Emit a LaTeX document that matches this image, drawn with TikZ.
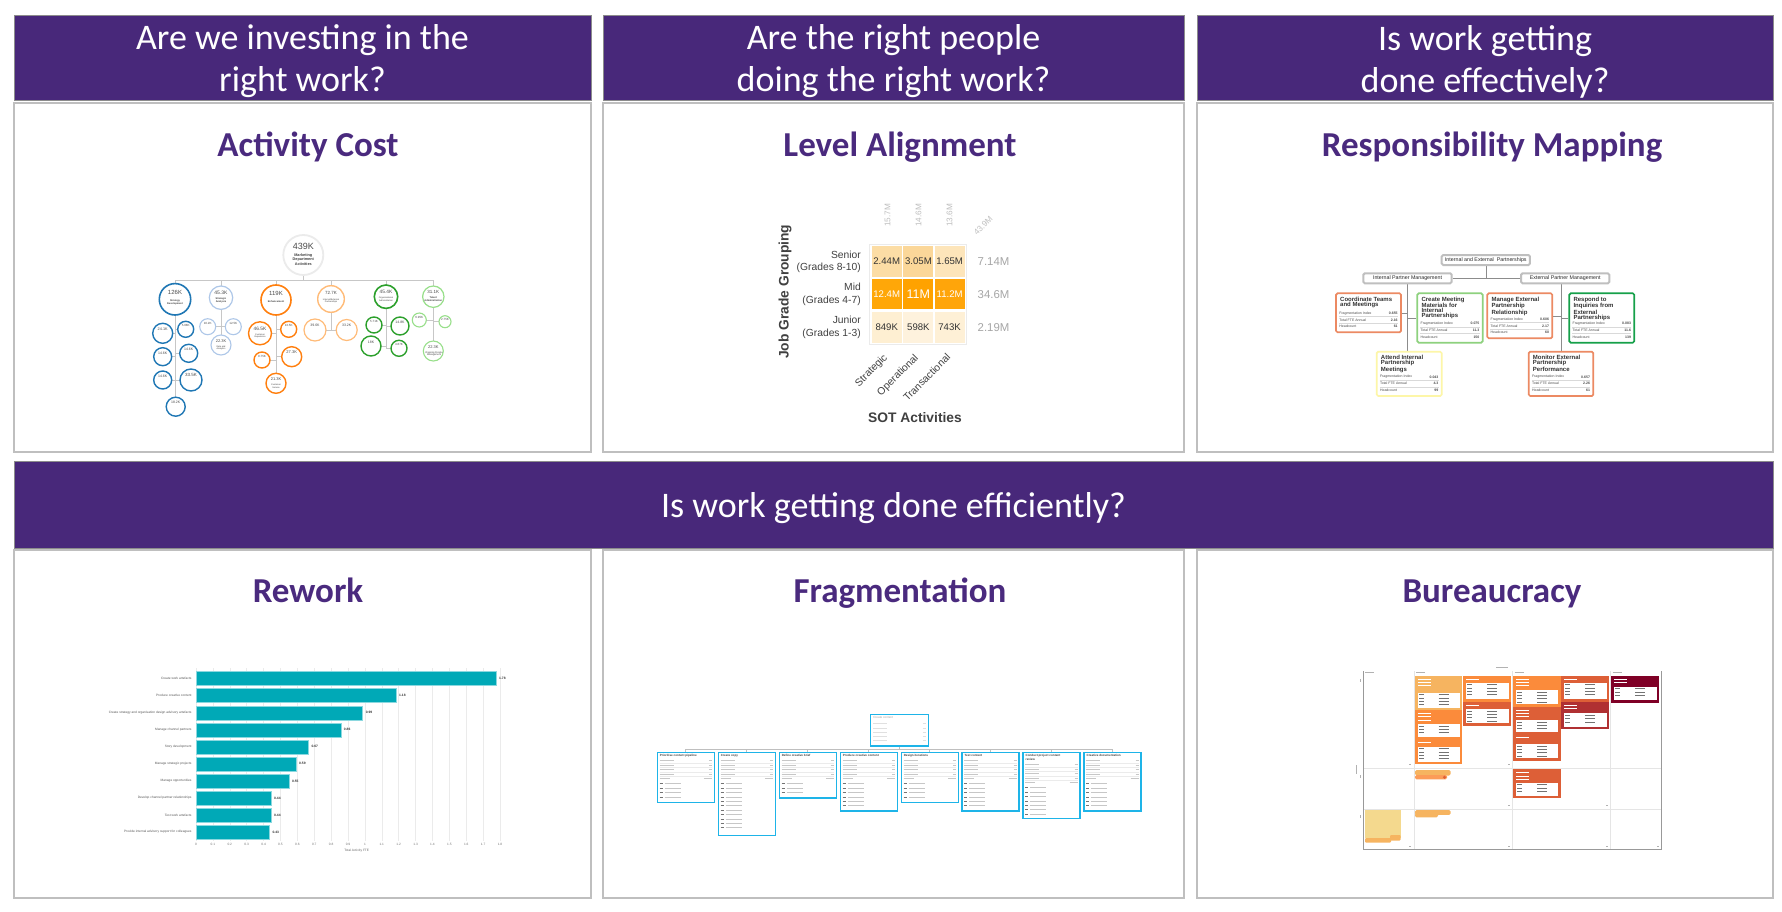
\documentclass[tikz,border=0pt]{standalone}
\usepackage{fontspec}
\setmainfont{Liberation Sans}
\newfontfamily\calf{Carlito}
\usetikzlibrary{calc}
\pgfdeclarelayer{back}
\pgfsetlayers{back,main}
\newcommand\fsz[2]{\fontsize{#1}{#2}\selectfont}
\definecolor{hdp}{HTML}{48287A}
\definecolor{ttp}{HTML}{4A2A7E}
\definecolor{pnlgray}{HTML}{BFBFBF}
\definecolor{cA}{HTML}{1F77B4}
\definecolor{cB}{HTML}{AEC7E8}
\definecolor{cC}{HTML}{FF7F0E}
\definecolor{cD}{HTML}{FFBB78}
\definecolor{cE}{HTML}{2CA02C}
\definecolor{cF}{HTML}{98DF8A}
\definecolor{hS1}{HTML}{FCDDA5}
\definecolor{hS2}{HTML}{FBD799}
\definecolor{hS3}{HTML}{FDE5BA}
\definecolor{hM1}{HTML}{FFA708}
\definecolor{hM2}{HTML}{FFA200}
\definecolor{hM3}{HTML}{FFA50A}
\definecolor{hJ1}{HTML}{FEEFD2}
\definecolor{hJ2}{HTML}{FEF2DD}
\definecolor{hJ3}{HTML}{FEF0D6}
\definecolor{rSal}{HTML}{EC8A63}
\definecolor{rLG}{HTML}{8ED17E}
\definecolor{rYel}{HTML}{FDF6A8}
\definecolor{rDG}{HTML}{16A04A}
\definecolor{tealbar}{HTML}{00A9B7}
\definecolor{frc}{HTML}{1EB4E8}
\definecolor{bL}{HTML}{F6B460}
\definecolor{bO}{HTML}{FB8B3B}
\definecolor{bR}{HTML}{DD5F37}
\definecolor{bD}{HTML}{B03032}
\definecolor{bM}{HTML}{7F0026}
\definecolor{bY}{HTML}{F4D98E}

% activity-cost circle: name, x, y, r, colour, line width, value, value size
\newcommand\acc[8]{%
  \node[accirc,draw=#5,line width=#6,minimum size=2*#4] (#1) at (#2,#3) {};
  \node[acval,font=\fsz{#8}{#8}] (#1-v) at (#2,#3-0.42*#4) {#7};
}
% responsibility leaf: name, x1, y1, x2, y2, colour, title
\newcommand\rleaf[7]{%
  \node[rbox,draw=#6,minimum width=#4-#2,minimum height=#5-#3] (#1) at ({(#2+#4)/2},{(#3+#5)/2}) {};
  \node[rtitle,anchor=north west] (#1-t) at (#2+4,#3+3.2) {#7};
}
\newcommand\rvals[4]{%
  \foreach \lab/\val/\k in {Fragmentation Index/#2/20,Total FTE Annual/#3/13.3,Headcount/#4/6.7} {
    \node[rrow,anchor=west] at ($(#1.south west)+(4,-\k)$) {\lab};
    \node[rrow,font=\bfseries\fsz{3.5}{4},anchor=east] at ($(#1.south east)+(-4,-\k)$) {\val};
  }
  \draw[black!15,line width=0.3] ($(#1.south west)+(4,-16.6)$) -- ($(#1.south east)+(-4,-16.6)$);
  \draw[black!15,line width=0.3] ($(#1.south west)+(4,-10)$) -- ($(#1.south east)+(-4,-10)$);
}
% fragmentation child: name, cx, top, height, title, names, offset
\newcommand\frbox[7]{%
  \node[fbx,minimum height=#4] (#1) at (#2,#3+#4/2) {};
  \node[ftitle,anchor=north west] (#1-t) at ($(#1.north west)+(3,2.6)$) {#5};
  \foreach \k in {0,1,2,3} {
    \draw[ftx] ($(#1.north west)+(3,9+#7+4.4*\k)$) -- ++(14,0);
    \draw[ftx] ($(#1.north east)+(-6,9+#7+4.4*\k)$) -- ++(3,0);
    \draw[fsep] ($(#1.north west)+(3,11.2+#7+4.4*\k)$) -- ($(#1.north east)+(-3,11.2+#7+4.4*\k)$);
  }
  \draw[ftx] ($(#1.north west)+(3,26.6+#7)$) -- ++(10,0);
  \draw[ftx] ($(#1.north east)+(-11,26.6+#7)$) -- ++(8,0);
  \foreach \k in {1,...,#6} {
    \draw[ftx,black!55] ($(#1.north west)+(3,27.6+#7+4.4*\k)$) -- ++(3,0);
    \draw[ftx] ($(#1.north west)+(8,27.6+#7+4.4*\k)$) -- ++(16,0);
  }
}
% bureaucracy card: name, x1, y1, x2, y2, colour, inner top, title lines
\newcommand\bcard[8]{%
  \node[bcd,fill=#6,minimum width=#4-#2,minimum height=#5-#3] (#1) at ({(#2+#4)/2},{(#3+#5)/2}) {};
  \fill[white] (#2+2.5,#7) rectangle (#4-2.5,#5-2.3);
  \foreach \k in {1,...,#8} \draw[white,line width=0.7] (#2+3,#3+3.3*\k) -- ++(13,0);
  \pgfmathtruncatemacro\nr{(#5-2.3-#7-1)/3.3}
  \foreach \k in {1,...,\nr} {
    \draw[black!55,line width=0.5] (#2+4,#7+3.3*\k-1.3) -- ++(5,0);
    \draw[black!55,line width=0.5] ({#2+0.5*(#4-#2)},#7+3.3*\k-1.3) -- ++(10,0);
  }
}

\begin{document}
\begin{tikzpicture}[x=1pt,y=-1pt,
  hdr/.style={fill=hdp,draw=black!45,line width=0.8pt},
  pnl/.style={draw=pnlgray,line width=1.1pt,fill=white},
  hdtxt/.style={text=white,font=\calf\fsz{36}{42},align=center,inner sep=0},
  ttl/.style={text=ttp,font=\calf\bfseries\fsz{35}{40},inner sep=0,anchor=base},
  accirc/.style={circle,fill=white,inner sep=0,outer sep=0},
  acval/.style={text=black!70,inner sep=0},
  aclab/.style={text=black!75,font=\bfseries\fsz{2.5}{2.8},align=center,inner sep=0},
  acline/.style={draw=black!22,line width=0.9pt},
  hcell/.style={minimum width=30,minimum height=30.5,inner sep=0,font=\fsz{9.6}{10},text=black!80},
  htot/.style={font=\fsz{11.4}{12},text=black!35,inner sep=0},
  hctot/.style={font=\fsz{8.2}{9},text=black!25,inner sep=0},
  hlab/.style={font=\fsz{10.3}{12.3},text=black!75,inner sep=0},
  rgb/.style={draw=black!25,line width=2pt,rounded corners=1.5pt,fill=white,minimum height=10,font=\fsz{5.3}{6},text=black!85,inner sep=1.5},
  rbox/.style={line width=1.7pt,rounded corners=1.5pt,fill=white,inner sep=0},
  rtitle/.style={font=\bfseries\fsz{6}{5.1},text=black!80,align=left,inner sep=0},
  rrow/.style={font=\fsz{3.5}{4},text=black!70,inner sep=0},
  rline/.style={draw=black!45,line width=0.6pt},
  fbx/.style={draw=frc,line width=1.2pt,fill=white,inner sep=0,minimum width=57},
  ftitle/.style={font=\bfseries\fsz{3}{3.5},text=black!75,align=left,inner sep=0},
  ftx/.style={draw=black!22,line width=0.9pt},
  fsep/.style={draw=black!8,line width=0.3pt},
  fline/.style={draw=black!25,line width=0.7pt},
  bcd/.style={draw=none,inner sep=0,outer sep=0},
  rwlab/.style={font=\fsz{3.2}{3.5},text=black!65,inner sep=0},
]
\useasboundingbox (0,0) rectangle (1782,912);

% ---------- frames (on the back layer, below all connectors) ----------
\begin{pgfonlayer}{back}
\fill[white] (0,0) rectangle (1782,912);
\draw[hdr] (14,15) rectangle (591,100);
\draw[hdr] (603,15) rectangle (1184,100);
\draw[hdr] (1197,15) rectangle (1773,100);
\draw[pnl] (14,103) rectangle (591,452);
\draw[pnl] (603,103) rectangle (1184,452);
\draw[pnl] (1197,103) rectangle (1773,452);
\draw[hdr] (14,461) rectangle (1773,548);
\draw[pnl] (14,550) rectangle (591,898);
\draw[pnl] (603,550) rectangle (1184,898);
\draw[pnl] (1197,550) rectangle (1773,898);
\end{pgfonlayer}

\node[hdtxt] (q1) at (302.5,61.5) {Are we investing in the\\right work?};
\node[hdtxt] (q2) at (893.5,61.5) {Are the right people\\doing the right work?};
\node[hdtxt] (q3) at (1485,61.5) {Is work getting\\done effectively?};
\node[hdtxt] (q4) at (893.5,508.5) {Is work getting done efficiently?};

\node[ttl] (t1) at (308,156.5) {Activity Cost};
\node[ttl] (t2) at (900,156.5) {Level Alignment};
\node[ttl] (t3) at (1492,156.5) {Responsibility Mapping};
\node[ttl] (t4) at (308,602.5) {Rework};
\node[ttl] (t5) at (900,602.5) {Fragmentation};
\node[ttl] (t6) at (1492,602.5) {Bureaucracy};

% ---------- Activity Cost ----------
\acc{acR}{303.3}{255}{20}{black!8}{1.8}{439K}{9}
\node[aclab,font=\bfseries\fsz{3.8}{4.4}] (acR-l) at (303.3,259.5) {Marketing\\Department\\Activities};
\coordinate (acbar) at (303.3,280);

\acc{acA}{175}{299.3}{15.7}{cA}{1.6}{126K}{6}
\acc{acB}{221}{297.7}{11.7}{cB}{1.2}{45.3K}{5}
\acc{acC}{276}{300}{15}{cC}{1.6}{119K}{6}
\acc{acD}{331}{299}{13.3}{cD}{1.4}{72.7K}{4.5}
\acc{acE}{386}{296.7}{11.7}{cE}{1.6}{45.4K}{4.8}
\acc{acF}{433.3}{296.7}{10.7}{cF}{1.2}{31.1K}{4.5}
\node[aclab] (acA-l) at (175,302) {Strategy\\Development};
\node[aclab] (acB-l) at (221,300) {Strategic\\Analysis};
\node[aclab] (acC-l) at (276,302) {Enhancement};
\node[aclab,font=\fsz{2.2}{2.5}] (acD-l) at (331,301) {Internal/External\\Partnerships};
\node[aclab,font=\fsz{2.2}{2.5}] (acE-l) at (386,299) {Organisational\\Administration};
\node[aclab] (acF-l) at (433.3,299.5) {Talent\\Administration};

\acc{acA1}{162.7}{333.3}{10}{cA}{1.4}{24.1K}{3.8}
\acc{acA2}{185.7}{329.3}{8}{cA}{1.4}{5.08K}{3}
\acc{acA3}{162.7}{356.7}{9}{cA}{1.4}{14.6K}{3.5}
\acc{acA4}{188.7}{353.3}{9}{cA}{1.4}{14.6K}{3.5}
\acc{acA5}{162.7}{380}{9}{cA}{1.4}{14.6K}{3.5}
\acc{acA6}{191}{380}{11}{cA}{1.4}{33.5K}{4.5}
\acc{acA7}{175.7}{406.7}{9.5}{cA}{1.4}{18.2K}{3.5}
\acc{acB1}{207.7}{326.7}{8}{cB}{1.1}{10.2K}{3}
\acc{acB2}{233.3}{326.7}{8}{cB}{1.1}{12.5K}{3}
\acc{acB3}{221}{345}{10}{cB}{1.1}{22.3K}{4}
\acc{acC1}{260}{333.3}{11.5}{cC}{1.4}{46.5K}{4.8}
\acc{acC2}{288.7}{329.3}{8}{cC}{1.4}{13.5K}{3}
\acc{acC3}{262}{360}{8}{cC}{1.4}{9.75K}{3}
\acc{acC4}{291.7}{356.7}{10}{cC}{1.4}{27.3K}{4}
\acc{acC5}{276}{383.3}{10}{cC}{1.4}{21.3K}{4}
\acc{acD1}{315}{330}{11}{cD}{1.2}{39.6K}{3.5}
\acc{acD2}{346.7}{330}{10.5}{cD}{1.2}{33.2K}{3.5}
\acc{acE1}{374}{325}{8}{cE}{1.4}{5.71K}{3}
\acc{acE2}{400}{326}{9}{cE}{1.4}{14.8K}{3.5}
\acc{acE3}{371}{346}{10}{cE}{1.4}{18K}{3.5}
\acc{acE4}{399}{348.3}{8}{cE}{1.4}{4.67K}{3}
\acc{acF1}{419.3}{320}{7}{cF}{1.1}{6.95K}{3}
\acc{acF2}{445}{321.7}{6}{cF}{1.1}{2.75K}{3}
\acc{acF3}{433.3}{351}{10}{cF}{1.1}{22.3K}{4}
\node[aclab,font=\fsz{2.2}{2.5}] (acC1-l) at (260,336) {Customer\\Experience};
\node[aclab,font=\fsz{2.2}{2.5}] (acC5-l) at (276,386) {Customer\\Service};
\node[aclab,font=\fsz{2.2}{2.5}] (acB3-l) at (221,348) {Data and\\Analytics};
\node[aclab,font=\fsz{2.4}{2.7}] (acF3-l) at (434,354) {Ongoing People\\Management};

\begin{pgfonlayer}{back}
  \draw[acline] (acR.south) -- (acbar);
  \foreach \n in {acA,acB,acC,acD,acE,acF} \draw[acline] (\n.north) |- (acbar);
  \draw[acline] (acA.south) -- (acA.south |- acA7.north);
  \draw[acline] (acB.south) -- (acB.south |- acB3.north);
  \draw[acline] (acC.south) -- (acC.south |- acC5.north);
  \draw[acline] (acD.south) -- (acD.south |- acD1);
  \draw[acline] (acE.south) -- (acE.south |- acE4);
  \draw[acline] (acF.south) -- (acF.south |- acF3.north);
  \foreach \c in {acA1,acA2,acA3,acA4,acA5,acA6} \draw[acline] (\c) -- (\c -| acA.south);
  \foreach \c in {acB1,acB2} \draw[acline] (\c) -- (\c -| acB.south);
  \foreach \c in {acC1,acC2,acC3,acC4} \draw[acline] (\c) -- (\c -| acC.south);
  \foreach \c in {acD1,acD2} \draw[acline] (\c) -- (\c -| acD.south);
  \foreach \c in {acE1,acE2,acE3,acE4} \draw[acline] (\c) -- (\c -| acE.south);
  \foreach \c in {acF1,acF2} \draw[acline] (\c) -- (\c -| acF.south);
\end{pgfonlayer}

% ---------- Level Alignment ----------
\draw[black!8,fill=white] (869.5,244.5) rectangle (966,344.5);
\node[hcell,fill=hS1] (la11) at (886.7,261.5) {2.44M};
\node[hcell,fill=hS2] (la12) at (918.4,261.5) {3.05M};
\node[hcell,fill=hS3] (la13) at (949.6,261.5) {1.65M};
\node[hcell,fill=hM1,text=white] (la21) at (886.7,294.2) {12.4M};
\node[hcell,fill=hM2,text=white,font=\fsz{12.5}{13}] (la22) at (918.4,294.2) {11M};
\node[hcell,fill=hM3,text=white] (la23) at (949.6,294.2) {11.2M};
\node[hcell,fill=hJ1] (la31) at (886.7,327.3) {849K};
\node[hcell,fill=hJ2] (la32) at (918.4,327.3) {598K};
\node[hcell,fill=hJ3] (la33) at (949.6,327.3) {743K};
\node[htot] (lr1) at (993.5,261.5) {7.14M};
\node[htot] (lr2) at (993.5,294.2) {34.6M};
\node[htot] (lr3) at (993.5,327.3) {2.19M};
\node[hctot,rotate=90,anchor=west] (lc1) at (887.5,227) {15.7M};
\node[hctot,rotate=90,anchor=west] (lc2) at (918.5,227) {14.6M};
\node[hctot,rotate=90,anchor=west] (lc3) at (949.5,227) {13.6M};
\node[hctot,rotate=45,anchor=west] (lc4) at (975,234) {43.9M};
\node[hlab,anchor=east,align=right] (ll1) at (861,261.5) {Senior\\(Grades 8-10)};
\node[hlab,anchor=east,align=right] (ll2) at (861,294.2) {Mid\\(Grades 4-7)};
\node[hlab,anchor=east,align=right] (ll3) at (861,327.3) {Junior\\(Grades 1-3)};
\node[rotate=90,font=\bfseries\fsz{13.8}{14},text=black!75,inner sep=0] (lay) at (785,291.7) {Job Grade Grouping};
\node[hlab,rotate=45,anchor=east,font=\fsz{10.3}{11}] (lx1) at (886,356.5) {Strategic};
\node[hlab,rotate=45,anchor=east,font=\fsz{10.3}{11}] (lx2) at (917,356.5) {Operational};
\node[hlab,rotate=45,anchor=east,font=\fsz{10.3}{11}] (lx3) at (948.5,355.5) {Transactional};
\node[font=\bfseries\fsz{13.8}{14},text=black!75,inner sep=0] (lax) at (915,417.7) {SOT Activities};

% ---------- Responsibility Mapping ----------
\node[rgb,minimum width=88.3] (rm0) at (1485.8,260) {Internal and External\ \ Partnerships};
\node[rgb,minimum width=88.4] (rm1) at (1407.5,278.3) {Internal Partner Management};
\node[rgb,minimum width=88.3] (rm2) at (1565.2,278.3) {External Partner Management};
\rleaf{rl1}{1336}{293.3}{1401}{332.3}{rSal}{Coordinate Teams\\and Meetings}
\rleaf{rl2}{1417.3}{293.3}{1482.7}{342.7}{rLG}{Create Meeting\\Materials for\\Internal\\Partnerships}
\rleaf{rl3}{1376.7}{351.7}{1441.7}{396}{rYel}{Attend Internal\\Partnership\\Meetings}
\rleaf{rl4}{1487.3}{293.3}{1552.3}{338.3}{rSal}{Manage External\\Partnership\\Relationship}
\rleaf{rl5}{1569.3}{293.3}{1634.3}{342.7}{rDG}{Respond to\\Inquiries from\\External\\Partnerships}
\rleaf{rl6}{1528.7}{351.7}{1593.3}{396}{rSal}{Monitor External\\Partnership\\Performance}
\rvals{rl1}{0.655}{2.16}{61}
\rvals{rl2}{0.075}{11.3}{150}
\rvals{rl3}{0.043}{4.3}{99}
\rvals{rl4}{0.606}{2.17}{60}
\rvals{rl5}{0.083}{11.6}{139}
\rvals{rl6}{0.657}{2.26}{61}
\begin{pgfonlayer}{back}
  \draw[rline] (rm1.east) -- (rm2.west);
  \draw[rline] (rm0.south) -- (rm0.south |- rm1.east);
  \draw[rline] (rm1.south) -- (rm1.south |- rl3.north);
  \draw[rline] (rl1.east) -- (rl1.east -| rm1.south);
  \draw[rline] (rl2.west) -- (rl2.west -| rm1.south);
  \draw[rline] (rm2.south -| rl6.north) -- (rl6.north);
  \draw[rline] (rl4.east) -- (rl4.east -| rl6.north);
  \draw[rline] (rl5.west) -- (rl5.west -| rl6.north);
\end{pgfonlayer}

% ---------- Rework ----------
\foreach \k/\t in {0/0,1/0.1,2/0.2,3/0.3,4/0.4,5/0.5,6/0.6,7/0.7,8/0.8,9/0.9,10/1,11/1.1,12/1.2,13/1.3,14/1.4,15/1.5,16/1.6,17/1.7,18/1.8} {
  \draw[black!8,line width=0.4pt] ({196+16.889*\k},668) -- ({196+16.889*\k},841);
  \node[rwlab,text=black!55] at ({196+16.889*\k},844.6) {\t};
}
\foreach \i/\lab/\v/\len in {
  1/Create work artefacts/1.78/1.776,
  2/Produce creative content/1.18/1.184,
  3/Create strategy and organisation design advisory artefacts/0.99/0.987,
  4/Manage channel partners/0.86/0.857,
  5/Story development/0.67/0.665,
  6/Manage strategic projects/0.59/0.592,
  7/Manage opportunities/0.55/0.55,
  8/Develop channel partner relationships/0.44/0.444,
  9/Test work artefacts/0.44/0.444,
  10/Provide internal advisory support for colleagues/0.43/0.434} {
  \fill[tealbar,draw=tealbar!45,line width=0.5pt] (196,{678.7+17.03*(\i-1)-7}) rectangle ({196+168.9*\len},{678.7+17.03*(\i-1)+7});
  \node[rwlab,anchor=east] at (191.7,{678.7+17.03*(\i-1)}) {\lab};
  \node[rwlab,anchor=west,font=\bfseries\fsz{3.3}{3.5},text=black!80] at ({196+168.9*\len+3},{678.7+17.03*(\i-1)}) {\v};
}
\node[rwlab,text=black!60] (rwx) at (356.7,850.6) {Total Activity FTE};

% ---------- Fragmentation ----------
\node[fbx,minimum width=57.6,minimum height=31.7] (fr0) at (899.5,730.2) {};
\node[ftitle,anchor=north west,font=\fsz{3}{3.5},text=black!35] (fr0-t) at ($(fr0.north west)+(3,2.6)$) {Create content};
\foreach \k in {0,...,4} {
  \draw[draw=black!12,line width=0.9pt] ($(fr0.north west)+(3,10+4.2*\k)$) -- ++(14,0);
  \draw[draw=black!12,line width=0.9pt] ($(fr0.north east)+(-6,10+4.2*\k)$) -- ++(3,0);
}
\frbox{fc1}{685.8}{752.5}{49.7}{Prioritise content pipeline}{4}{0}
\frbox{fc2}{746.8}{752.5}{83}{Create copy}{11}{0}
\frbox{fc3}{807.7}{752.5}{45.4}{Define creative brief}{3}{0}
\frbox{fc4}{868.8}{752.5}{58.4}{Produce creative content}{6}{0}
\frbox{fc5}{929.7}{752.5}{49.7}{Design iterations}{4}{0}
\frbox{fc6}{990.5}{752.5}{58.4}{Test content}{6}{0}
\frbox{fc7}{1051.5}{752.5}{66}{Conduct project content\\review}{7}{4}
\frbox{fc8}{1112.5}{752.5}{58.4}{Creative documentation}{6}{0}
\coordinate (fbar) at (899.5,749.6);
\begin{pgfonlayer}{back}
  \draw[fline] (fr0.south) -- (fbar);
  \foreach \i in {1,...,8} \draw[fline] (fc\i.north) |- (fbar);
\end{pgfonlayer}

% ---------- Bureaucracy ----------
\foreach \xx in {1414.3,1512.7,1610.7} \draw[black!10,line width=0.6pt] (\xx,671) -- (\xx,849.3);
\foreach \yy in {768.3,809} \draw[black!10,line width=0.6pt] (1363.3,\yy) -- (1661,\yy);
\draw[black!40,line width=0.8pt] (1363.3,671) -- (1363.3,849.3) -- (1661.7,849.3);
\draw[black!40,line width=0.8pt] (1661,671) -- (1661,849.3);
\foreach \xx in {1365,1416,1514.5,1612.5} \draw[black!30,line width=0.6pt] (\xx,672.3) -- ++(9,0);
\draw[black!30,line width=0.6pt] (1496,667) -- ++(12,0);
\draw[black!30,line width=0.6pt] (1356,765) -- ++(0,9);
\foreach \yy in {679,775,815} \draw[black!30,line width=0.6pt] (1360.5,\yy) -- ++(0,3);
\foreach \xx/\yy in {1409/846,1508/846,1606/846,1657/846,1508/805,1606/805,1409/764,1508/764} \draw[black!30,line width=0.6pt] (\xx,\yy) -- ++(2,0);
\bcard{bc1}{1415}{675.7}{1462.3}{710}{bL}{692.7}{3}
\bcard{bc2}{1415}{710}{1462.3}{739.3}{bO}{724}{3}
\bcard{bc3}{1415}{739.3}{1462.3}{764}{bO}{746.7}{1}
\bcard{bc4}{1463.3}{675.7}{1511}{701.7}{bO}{682.7}{1}
\bcard{bc5}{1463.3}{701.7}{1511}{725.7}{bR}{709}{1}
\bcard{bc6}{1513.3}{675.7}{1560.7}{706.7}{bO}{690}{3}
\bcard{bc7}{1513.3}{706.7}{1560.7}{734}{bR}{720}{3}
\bcard{bc8}{1513.3}{734}{1560.7}{760.7}{bR}{744}{1}
\bcard{bc9}{1561.3}{675.7}{1609}{701.7}{bR}{682.7}{1}
\bcard{bc10}{1561.3}{701.7}{1609}{729}{bD}{713.3}{2}
\bcard{bc11}{1611}{675.7}{1659}{702.7}{bM}{686.7}{2}
\bcard{bc12}{1513.3}{769.3}{1560.7}{798.3}{bR}{782.7}{3}
\fill[bL,rounded corners=1.5pt] (1415,770) rectangle (1450.7,775.5);
\fill[bO!85,rounded corners=1.5pt] (1415,775) rectangle (1447,779.3);
\fill[bR] (1444.5,777.2) circle (1.6);
\fill[bY] (1365,810) rectangle (1400.7,838);
\fill[bL,rounded corners=1pt] (1365,838) rectangle (1391,842.7);
\fill[bL,rounded corners=1pt] (1390,835) rectangle (1400.7,840.5);
\fill[bL,rounded corners=1.5pt] (1415,810) rectangle (1450.7,814.8);
\fill[bL,rounded corners=1.5pt] (1415,813) rectangle (1438,817.3);
\end{tikzpicture}
\end{document}
